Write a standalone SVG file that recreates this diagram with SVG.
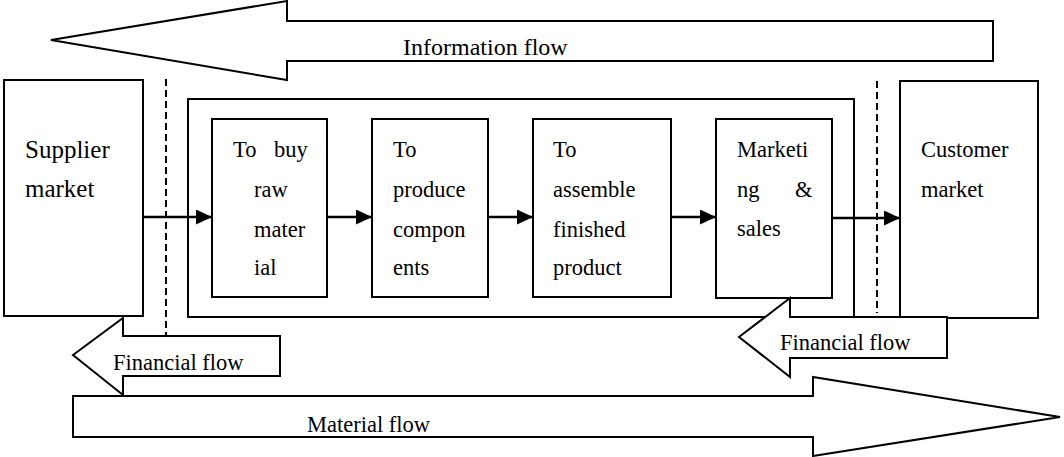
<svg xmlns="http://www.w3.org/2000/svg" width="1064" height="457" viewBox="0 0 1064 457">
<style>
.box{fill:#fff;stroke:#000;stroke-width:2}
.big{fill:#fff;stroke:#000;stroke-width:2;stroke-linejoin:miter}
.dash{stroke:#000;stroke-width:2;stroke-dasharray:7,4;fill:none}
.conn{stroke:#000;stroke-width:2.5;fill:none}
text{font-family:"Liberation Serif","Times New Roman",serif;font-size:22.5px;fill:#000}
</style>
<defs>
<marker id="ah" markerUnits="userSpaceOnUse" markerWidth="17" markerHeight="16" refX="16" refY="7.5" orient="auto">
<path d="M0,0 L16,7.5 L0,15 z" fill="#000"/>
</marker>
</defs>
<rect width="1064" height="457" fill="#fff"/>

<g id="information-flow">
<polygon class="big" points="51,40 287,1 287,21 993,21 993,61 287,61 287,80"/>
<text x="403" y="55" style="font-size:24px">Information flow</text>
</g>

<g id="supplier-market">
<rect class="box" x="4" y="80" width="139" height="236"/>
<text x="25" y="158" style="font-size:25px">Supplier</text>
<text x="25" y="197" style="font-size:25px">market</text>
</g>

<g id="customer-market">
<rect class="box" x="900" y="81" width="138" height="237"/>
<text x="921" y="157">Customer</text>
<text x="921" y="197">market</text>
</g>

<g id="company">
<rect class="box" x="188" y="99" width="666" height="218"/>
</g>

<g id="dividers">
<line class="dash" x1="166" y1="79" x2="166" y2="335"/>
<line class="dash" x1="877" y1="81" x2="877" y2="313"/>
</g>

<g id="buy-raw-material">
<rect class="box" x="212" y="119" width="115" height="178"/>
<text x="233" y="157">To</text>
<text x="274" y="157">buy</text>
<text x="254" y="197">raw</text>
<text x="254" y="237">mater</text>
<text x="254" y="275">ial</text>
</g>

<g id="produce-components">
<rect class="box" x="372" y="119" width="116" height="178"/>
<text x="393" y="157">To</text>
<text x="393" y="197">produce</text>
<text x="393" y="237">compon</text>
<text x="393" y="275">ents</text>
</g>

<g id="assemble-finished-product">
<rect class="box" x="533" y="119" width="138" height="178"/>
<text x="553" y="157">To</text>
<text x="553" y="197">assemble</text>
<text x="553" y="237">finished</text>
<text x="553" y="275">product</text>
</g>

<g id="marketing-sales">
<rect class="box" x="716" y="119" width="116" height="179"/>
<text x="737" y="157">Marketi</text>
<text x="737" y="197">ng</text>
<text x="795" y="197">&amp;</text>
<text x="737" y="236">sales</text>
</g>

<g id="connectors">
<line class="conn" x1="143" y1="217" x2="212" y2="217" marker-end="url(#ah)"/>
<line class="conn" x1="327" y1="217" x2="372" y2="217" marker-end="url(#ah)"/>
<line class="conn" x1="488" y1="217" x2="533" y2="217" marker-end="url(#ah)"/>
<line class="conn" x1="671" y1="217" x2="716" y2="217" marker-end="url(#ah)"/>
<line class="conn" x1="832" y1="218" x2="900" y2="218" marker-end="url(#ah)"/>
</g>

<g id="financial-flow-left">
<polygon class="big" points="73,355 123,318 123,336 280,336 280,376 123,376 123,395"/>
<text x="113" y="370">Financial flow</text>
</g>

<g id="financial-flow-right">
<polygon class="big" points="739,337 790,298 790,317 947,317 947,358 790,358 790,377"/>
<text x="780" y="350">Financial flow</text>
</g>

<g id="material-flow">
<polygon class="big" points="73,396 813,396 813,377 1060,417 813,456 813,437 73,437"/>
<text x="307" y="432">Material flow</text>
</g>
</svg>
